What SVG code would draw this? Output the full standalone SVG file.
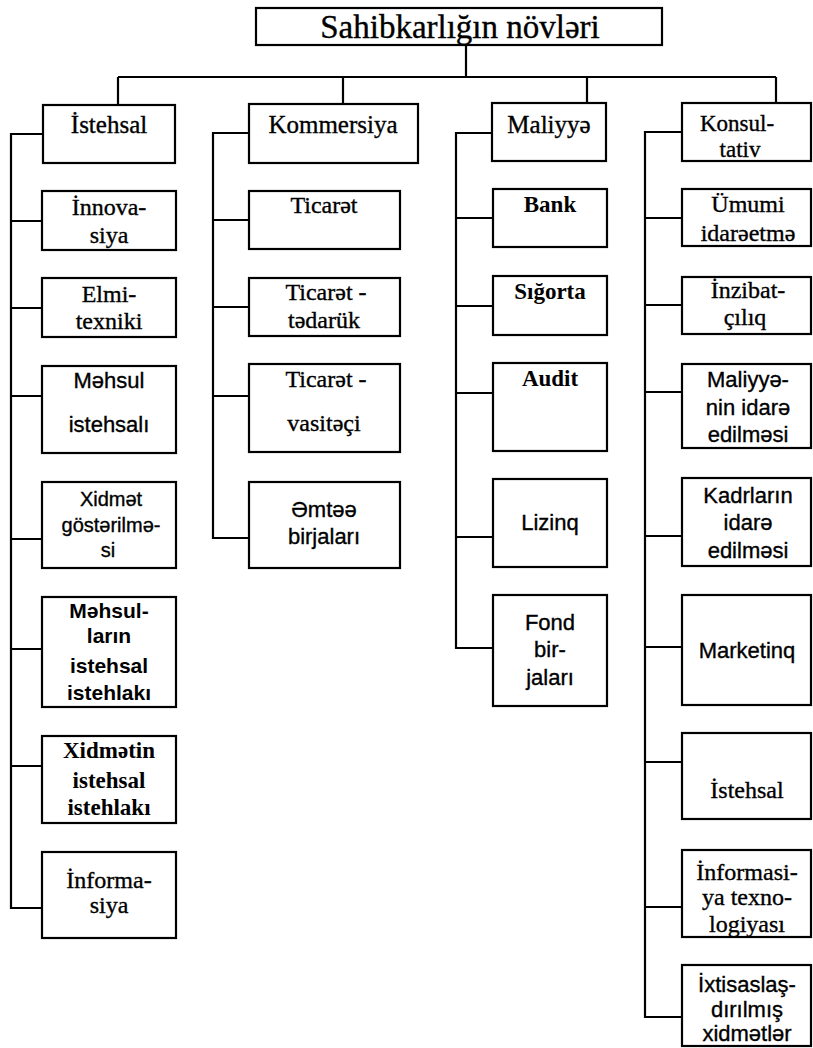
<svg xmlns="http://www.w3.org/2000/svg" width="813" height="1048" viewBox="0 0 813 1048">
  <style>
    .box { fill: #ffffff; stroke: #000000; stroke-width: 2.2; }
    .conn { fill: none; stroke: #000000; stroke-width: 2.2; stroke-linejoin: miter; }
    text { fill: #000000; stroke: #000000; stroke-width: 0.35; text-anchor: middle; }
    .t { font-family: "Liberation Serif", "Times New Roman", serif; font-size: 33px; }
    .h { font-family: "Liberation Serif", "Times New Roman", serif; font-size: 25px; }
    .hk { font-family: "Liberation Serif", "Times New Roman", serif; font-size: 23px; }
    .s { font-family: "Liberation Serif", "Times New Roman", serif; font-size: 24px; }
    .sb { font-family: "Liberation Serif", "Times New Roman", serif; font-size: 23px; font-weight: bold; stroke-width: 0; }
    .ss { font-family: "Liberation Sans", Arial, sans-serif; font-size: 22px; }
    .sst { font-family: "Liberation Sans", Arial, sans-serif; font-size: 20px; }
    .ssb { font-family: "Liberation Sans", Arial, sans-serif; font-size: 21px; font-weight: bold; stroke-width: 0; }
  </style>
  <rect width="813" height="1048" fill="#ffffff"/>

  <!-- connectors -->
  <g id="connectors" class="conn">
    <path d="M466 45 V77 M118 77 H776 M118 77 V105 M343 77 V104 M587 77 V103 M776 77 V103"/>
    <!-- production branch -->
    <path d="M43 134 H11 V908 H42 M11 221 H42 M11 308 H42 M11 396 H42 M11 539 H42 M11 649 H42 M11 766 H42"/>
    <!-- commerce branch -->
    <path d="M249 133 H213 V538 H249 M213 220 H249 M213 307 H249 M213 396 H249"/>
    <!-- finance branch -->
    <path d="M492 133 H456 V648 H493 M456 218 H493 M456 306 H493 M456 393 H493 M456 537 H493"/>
    <!-- consulting branch -->
    <path d="M682 132 H645 V1017 H682 M645 218 H682 M645 305 H682 M645 392 H682 M645 536 H682 M645 647 H682 M645 762 H682 M645 907 H682"/>
  </g>

  <!-- root -->
  <g id="root">
    <rect class="box" x="256" y="8" width="406" height="37"/>
    <text class="t" x="460" y="38">Sahibkarlığın növləri</text>
  </g>

  <!-- column: İstehsal -->
  <g id="istehsal">
    <rect class="box" x="43" y="105" width="132" height="58"/>
    <text class="h" x="109" y="133">İstehsal</text>
  </g>
  <g id="innovasiya">
    <rect class="box" x="42" y="191" width="134" height="59"/>
    <text class="s" x="109" y="215">İnnova-</text>
    <text class="s" x="109" y="243">siya</text>
  </g>
  <g id="elmi-texniki">
    <rect class="box" x="42" y="278" width="134" height="59"/>
    <text class="s" x="109" y="302">Elmi-</text>
    <text class="s" x="109" y="329">texniki</text>
  </g>
  <g id="mehsul-istehsali">
    <rect class="box" x="42" y="366" width="134" height="87"/>
    <text class="ss" x="109" y="388">Məhsul</text>
    <text class="ss" x="109" y="432">istehsalı</text>
  </g>
  <g id="xidmet-gosterilmesi">
    <rect class="box" x="42" y="482" width="134" height="86"/>
    <text class="sst" x="111" y="506">Xidmət</text>
    <text class="sst" x="111" y="532">göstərilmə-</text>
    <text class="sst" x="108" y="557">si</text>
  </g>
  <g id="mehsullarin-istehlaki">
    <rect class="box" x="42" y="597" width="134" height="110"/>
    <text class="ssb" x="109" y="618">Məhsul-</text>
    <text class="ssb" x="109" y="643">ların</text>
    <text class="ssb" x="109" y="673">istehsal</text>
    <text class="ssb" x="109" y="700">istehlakı</text>
  </g>
  <g id="xidmetin-istehlaki">
    <rect class="box" x="42" y="736" width="134" height="87"/>
    <text class="sb" x="109" y="758">Xidmətin</text>
    <text class="sb" x="109" y="788">istehsal</text>
    <text class="sb" x="109" y="815">istehlakı</text>
  </g>
  <g id="informasiya">
    <rect class="box" x="42" y="852" width="134" height="86"/>
    <text class="s" x="109" y="888">İnforma-</text>
    <text class="s" x="109" y="913">siya</text>
  </g>

  <!-- column: Kommersiya -->
  <g id="kommersiya">
    <rect class="box" x="249" y="104" width="169" height="59"/>
    <text class="h" x="333" y="133">Kommersiya</text>
  </g>
  <g id="ticaret">
    <rect class="box" x="249" y="191" width="151" height="58"/>
    <text class="s" x="324" y="213">Ticarət</text>
  </g>
  <g id="ticaret-tedaruk">
    <rect class="box" x="249" y="278" width="151" height="58"/>
    <text class="s" x="326" y="300">Ticarət -</text>
    <text class="s" x="324" y="328">tədarük</text>
  </g>
  <g id="ticaret-vasiteci">
    <rect class="box" x="249" y="364" width="151" height="88"/>
    <text class="s" x="326" y="387">Ticarət -</text>
    <text class="s" x="324" y="431">vasitəçi</text>
  </g>
  <g id="emtee-birjalari">
    <rect class="box" x="249" y="482" width="151" height="86"/>
    <text class="ss" x="324" y="517">Əmtəə</text>
    <text class="ss" x="324" y="544">birjaları</text>
  </g>

  <!-- column: Maliyyə -->
  <g id="maliyye">
    <rect class="box" x="492" y="103" width="114" height="58"/>
    <text class="h" x="549" y="133">Maliyyə</text>
  </g>
  <g id="bank">
    <rect class="box" x="493" y="189" width="114" height="58"/>
    <text class="sb" x="550" y="212">Bank</text>
  </g>
  <g id="sigorta">
    <rect class="box" x="493" y="276" width="114" height="59"/>
    <text class="sb" x="550" y="299">Sığorta</text>
  </g>
  <g id="audit">
    <rect class="box" x="493" y="363" width="114" height="88"/>
    <text class="sb" x="550" y="386">Audit</text>
  </g>
  <g id="lizinq">
    <rect class="box" x="493" y="479" width="114" height="88"/>
    <text class="ss" x="550" y="530">Lizinq</text>
  </g>
  <g id="fond-birjalari">
    <rect class="box" x="493" y="595" width="114" height="111"/>
    <text class="ss" x="550" y="630">Fond</text>
    <text class="ss" x="550" y="657">bir-</text>
    <text class="ss" x="550" y="685">jaları</text>
  </g>

  <!-- column: Konsultativ -->
  <g id="konsultativ">
    <rect class="box" x="682" y="103" width="129" height="58"/>
    <text class="hk" x="737" y="131">Konsul-</text>
    <text class="hk" x="740" y="157">tativ</text>
  </g>
  <g id="umumi-idareetme">
    <rect class="box" x="682" y="189" width="129" height="57"/>
    <text class="s" x="748" y="212">Ümumi</text>
    <text class="s" x="748" y="241">idarəetmə</text>
  </g>
  <g id="inzibatciliq">
    <rect class="box" x="682" y="277" width="129" height="57"/>
    <text class="s" x="748" y="298">İnzibat-</text>
    <text class="s" x="745" y="325">çılıq</text>
  </g>
  <g id="maliyyenin-idare-edilmesi">
    <rect class="box" x="682" y="364" width="129" height="84"/>
    <text class="ss" x="748" y="387">Maliyyə-</text>
    <text class="ss" x="748" y="415">nin idarə</text>
    <text class="ss" x="748" y="442">edilməsi</text>
  </g>
  <g id="kadrlarin-idare-edilmesi">
    <rect class="box" x="682" y="478" width="129" height="88"/>
    <text class="ss" x="748" y="503">Kadrların</text>
    <text class="ss" x="748" y="530">idarə</text>
    <text class="ss" x="748" y="558">edilməsi</text>
  </g>
  <g id="marketinq">
    <rect class="box" x="682" y="595" width="129" height="110"/>
    <text class="ss" x="747" y="658">Marketinq</text>
  </g>
  <g id="istehsal-k">
    <rect class="box" x="682" y="733" width="129" height="86"/>
    <text class="s" x="747" y="798">İstehsal</text>
  </g>
  <g id="informasiya-texnologiyasi">
    <rect class="box" x="682" y="850" width="129" height="87"/>
    <text class="s" x="747" y="880">İnformasi-</text>
    <text class="s" x="747" y="905">ya texno-</text>
    <text class="s" x="747" y="932">logiyası</text>
  </g>
  <g id="ixtisaslasdirilmis-xidmetler">
    <rect class="box" x="682" y="965" width="129" height="81"/>
    <text class="ss" x="747" y="992">İxtisaslaş-</text>
    <text class="ss" x="747" y="1017">dırılmış</text>
    <text class="ss" x="747" y="1041">xidmətlər</text>
  </g>
</svg>
